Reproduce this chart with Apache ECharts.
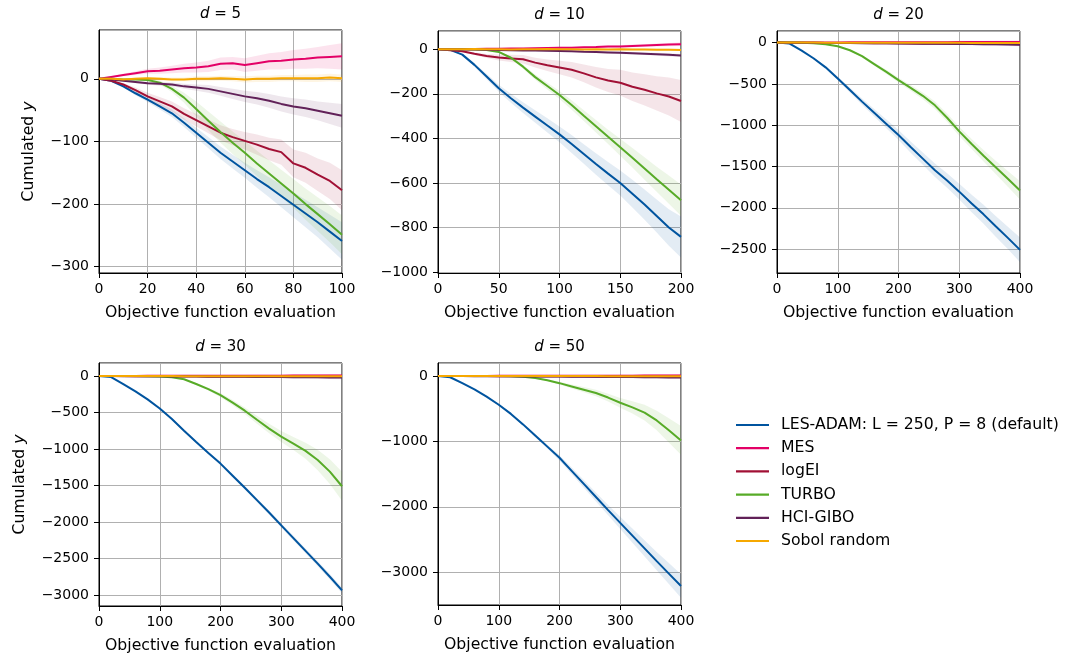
<!DOCTYPE html>
<html>
<head>
<meta charset="utf-8">
<script src="https://cdn.jsdelivr.net/npm/echarts@6/dist/echarts.min.js"></script>
<style>
  html, body { margin: 0; padding: 0; background: #ffffff; }
  #chart { width: 1066px; height: 658px; }
</style>
</head>
<body>
<div id="chart"></div>
<script>
// Methods compared and their line colours
const methods = ['LES-ADAM: L = 250, P = 8 (default)', 'MES', 'logEI', 'TURBO', 'HCI-GIBO', 'Sobol random'];
const colors = ['#00549F', '#E30066', '#A11035', '#57AB27', '#612158', '#F6A800'];

// ---- d = 5 : evaluations 0..100 ----
const evalsD5 = [0, 5, 10, 15, 20, 25, 30, 35, 40, 45, 50, 55, 60, 65, 70, 75, 80, 85, 90, 95, 100];
const les5 = [0, -3, -12, -23, -33, -44, -55, -70, -86, -102, -118, -132, -146, -160, -173, -187, -201, -215, -229, -244, -259];
const les5Band = [0, 1, 2, 3, 4, 5, 6, 7, 8, 9, 10, 11, 12, 14, 16, 18, 20, 22, 24, 27, 30];
const mes5 = [0, 3, 6, 9, 12, 13, 15, 17, 18, 20, 24, 25, 22, 25, 28, 29, 31, 32, 34, 35, 36];
const mes5Band = [0, 1, 2, 3, 4, 5, 6, 7, 8, 9, 10, 10, 11, 12, 13, 14, 15, 16, 17, 19, 21];
const logei5 = [0, -3, -9, -18, -28, -36, -44, -56, -66, -76, -86, -93, -99, -105, -112, -117, -135, -142, -153, -163, -178];
const logei5Band = [0, 1, 2, 4, 6, 7, 8, 9, 10, 11, 12, 13, 14, 16, 18, 20, 22, 24, 26, 29, 32];
const turbo5 = [0, 0, -1, -1, -2, -6, -16, -30, -48, -67, -85, -102, -118, -135, -151, -167, -183, -200, -216, -232, -249];
const turbo5Band = [0, 0, 0, 1, 2, 3, 5, 8, 12, 15, 17, 18, 19, 20, 21, 22, 23, 25, 27, 29, 31];
const hci5 = [0, -1, -3, -5, -7, -8, -9, -12, -14, -16, -20, -24, -28, -31, -35, -40, -44, -47, -51, -55, -59];
const hci5Band = [0, 1, 1, 2, 2, 3, 3, 4, 5, 6, 7, 8, 9, 10, 11, 12, 13, 14, 15, 17, 19];
const sobol5 = [0, 0, -1, 0, 1, 0, -1, -1, 0, 0, 1, 0, -1, 0, 0, 1, 1, 1, 1, 2, 1];
const sobol5Band = [0, 1, 1, 2, 2, 3, 3, 3, 4, 4, 4, 4, 5, 5, 5, 5, 5, 6, 6, 6, 6];

// ---- d = 10 : evaluations 0..200 ----
const evalsD10 = [0, 10, 20, 30, 40, 50, 60, 70, 80, 90, 100, 110, 120, 130, 140, 150, 160, 170, 180, 190, 200];
const les10 = [0, -3, -24, -70, -122, -175, -220, -262, -302, -342, -382, -425, -470, -515, -558, -600, -648, -697, -748, -800, -842];
const les10Band = [0, 1, 4, 8, 12, 16, 20, 24, 28, 32, 35, 40, 44, 48, 52, 56, 62, 68, 74, 82, 92];
const mes10 = [0, 0, 1, 1, 2, 2, 3, 3, 5, 6, 7, 7, 9, 10, 12, 13, 15, 17, 19, 21, 23];
const mes10Band = [0, 1, 1, 1, 2, 2, 2, 3, 3, 3, 4, 4, 4, 5, 5, 5, 6, 6, 7, 7, 8];
const logei10 = [0, -4, -9, -20, -30, -37, -41, -45, -60, -72, -82, -92, -108, -126, -140, -150, -168, -182, -198, -212, -232];
const logei10Band = [0, 2, 4, 6, 9, 13, 16, 19, 22, 26, 30, 35, 40, 46, 52, 58, 64, 70, 77, 85, 94];
const turbo10 = [0, 0, 0, -1, -3, -12, -38, -78, -125, -165, -205, -250, -298, -345, -393, -440, -487, -535, -583, -630, -677];
const turbo10Band = [0, 0, 0, 0, 1, 3, 6, 9, 12, 15, 18, 21, 24, 28, 32, 38, 44, 50, 56, 63, 70];
const hci10 = [0, 0, -1, -1, -2, -3, -4, -5, -6, -7, -8, -9, -11, -12, -14, -16, -18, -20, -22, -25, -28];
const hci10Band = [0, 1, 1, 1, 2, 2, 2, 3, 3, 3, 4, 4, 4, 5, 5, 5, 6, 6, 6, 7, 7];
const sobol10 = [0, 0, 0, 1, 0, 0, -1, 0, 0, 1, 0, 0, -1, 0, -1, 0, -1, -1, -2, -2, -3];
const sobol10Band = [0, 1, 1, 1, 2, 2, 2, 2, 3, 3, 3, 3, 3, 4, 4, 4, 4, 4, 5, 5, 5];

// ---- d = 20, 30, 50 : evaluations 0..400 ----
const evalsD400 = [0, 20, 40, 60, 80, 100, 120, 140, 160, 180, 200, 220, 240, 260, 280, 300, 320, 340, 360, 380, 400];

const les20 = [0, -10, -95, -190, -300, -435, -575, -715, -850, -985, -1120, -1265, -1405, -1545, -1670, -1805, -1945, -2080, -2225, -2365, -2510];
const les20Band = [0, 2, 5, 10, 15, 22, 30, 38, 45, 52, 60, 68, 75, 82, 88, 95, 105, 115, 125, 135, 150];
const mes20 = [0, 0, 1, 1, 2, 2, 3, 3, 3, 4, 4, 4, 5, 5, 5, 6, 6, 6, 7, 7, 8];
const logei20 = [0, -1, -2, -3, -4, -5, -5, -6, -7, -8, -9, -10, -11, -12, -13, -14, -15, -16, -17, -18, -20];
const turbo20 = [0, 0, -2, -8, -20, -45, -93, -165, -260, -355, -455, -548, -645, -760, -910, -1075, -1225, -1370, -1510, -1650, -1790];
const turbo20Band = [0, 0, 1, 2, 4, 6, 10, 15, 20, 25, 30, 35, 40, 45, 50, 55, 60, 70, 80, 95, 110];
const hci20 = [0, -1, -2, -3, -4, -5, -6, -7, -8, -9, -10, -11, -13, -14, -15, -16, -18, -19, -21, -23, -25];
const sobol20 = [0, 0, 0, 0, -1, -1, -1, -1, -2, -2, -2, -2, -3, -3, -3, -3, -4, -4, -4, -5, -5];
const flatBand20 = [0, 2, 3, 4, 5, 6, 7, 8, 9, 10, 10, 11, 12, 13, 14, 15, 16, 17, 18, 19, 20];

const les30 = [0, -15, -110, -210, -320, -445, -590, -750, -905, -1055, -1200, -1365, -1530, -1700, -1870, -2045, -2220, -2395, -2570, -2750, -2935];
const les30Band = [0, 2, 4, 6, 8, 10, 12, 14, 16, 18, 20, 22, 24, 26, 28, 30, 32, 34, 36, 38, 40];
const mes30 = [0, 0, 1, 1, 2, 2, 2, 3, 3, 3, 4, 4, 4, 5, 5, 5, 6, 6, 6, 7, 7];
const logei30 = [0, -1, -1, -2, -3, -3, -4, -5, -5, -6, -7, -7, -8, -9, -9, -10, -11, -11, -12, -13, -14];
const turbo30 = [0, 0, 0, 0, -3, -8, -18, -45, -110, -180, -262, -365, -475, -600, -720, -830, -925, -1025, -1150, -1310, -1510];
const turbo30Band = [0, 0, 0, 0, 1, 2, 4, 8, 14, 20, 28, 36, 45, 55, 65, 75, 90, 110, 140, 170, 200];
const hci30 = [0, -1, -2, -3, -4, -5, -6, -7, -8, -9, -10, -11, -12, -13, -14, -15, -16, -17, -18, -20, -22];
const sobol30 = [0, 0, 0, -1, -1, -1, -1, -2, -2, -2, -2, -2, -3, -3, -3, -3, -3, -4, -4, -4, -4];
const flatBand30 = [0, 2, 3, 4, 5, 6, 7, 8, 9, 10, 11, 12, 13, 14, 15, 16, 17, 18, 19, 20, 21];

const les50 = [0, -20, -110, -205, -315, -440, -580, -740, -910, -1080, -1250, -1450, -1650, -1850, -2050, -2245, -2440, -2635, -2830, -3020, -3210];
const les50Band = [0, 2, 4, 6, 8, 12, 16, 20, 25, 30, 40, 50, 60, 70, 80, 95, 110, 125, 140, 160, 180];
const mes50 = [0, 0, 1, 1, 1, 2, 2, 2, 3, 3, 3, 4, 4, 4, 5, 5, 5, 6, 6, 6, 7];
const logei50 = [0, -1, -1, -2, -2, -3, -3, -4, -4, -5, -5, -6, -6, -7, -7, -8, -8, -9, -9, -10, -10];
const turbo50 = [0, 0, 0, 0, 0, -2, -5, -12, -30, -65, -110, -160, -210, -260, -330, -410, -480, -560, -680, -830, -985];
const turbo50Band = [0, 0, 0, 0, 0, 1, 3, 6, 10, 15, 22, 30, 40, 50, 60, 75, 95, 120, 150, 185, 220];
const hci50 = [0, -1, -2, -3, -4, -5, -6, -7, -8, -9, -10, -11, -12, -13, -15, -16, -17, -19, -20, -22, -24];
const sobol50 = [0, 0, 0, 0, -1, -1, -1, -1, -1, -2, -2, -2, -2, -2, -3, -3, -3, -3, -3, -4, -4];
const flatBand50 = [0, 2, 3, 4, 5, 6, 7, 8, 9, 10, 11, 12, 13, 14, 15, 16, 17, 18, 19, 20, 22];

// Panel layout: one subplot per dimension
const panels = [
  { dim: '5',  x: evalsD5,   xMax: 100, yMin: -310,  yMax: 78,
    means: [les5, mes5, logei5, turbo5, hci5, sobol5],
    bands: [les5Band, mes5Band, logei5Band, turbo5Band, hci5Band, sobol5Band],
    grid: { left: 99, top: 30, width: 243, height: 243 }, yName: true, yNameGap: 62 },
  { dim: '10', x: evalsD10,  xMax: 200, yMin: -1004, yMax: 82,
    means: [les10, mes10, logei10, turbo10, hci10, sobol10],
    bands: [les10Band, mes10Band, logei10Band, turbo10Band, hci10Band, sobol10Band],
    grid: { left: 438, top: 31, width: 243, height: 242 } },
  { dim: '20', x: evalsD400, xMax: 400, yMin: -2790, yMax: 140,
    means: [les20, mes20, logei20, turbo20, hci20, sobol20],
    bands: [les20Band, flatBand20, flatBand20, turbo20Band, flatBand20, flatBand20],
    grid: { left: 777, top: 31, width: 243, height: 242 } },
  { dim: '30', x: evalsD400, xMax: 400, yMin: -3150, yMax: 178,
    means: [les30, mes30, logei30, turbo30, hci30, sobol30],
    bands: [les30Band, flatBand30, flatBand30, turbo30Band, flatBand30, flatBand30],
    grid: { left: 99, top: 363, width: 243, height: 243 }, yName: true, yNameGap: 71 },
  { dim: '50', x: evalsD400, xMax: 400, yMin: -3500, yMax: 198,
    means: [les50, mes50, logei50, turbo50, hci50, sobol50],
    bands: [les50Band, flatBand50, flatBand50, turbo50Band, flatBand50, flatBand50],
    grid: { left: 438, top: 363, width: 243, height: 242 } }
];

const FONT = 'DejaVu Sans';
const minus = v => (v < 0 ? '\u2212' + Math.abs(v) : String(v));
const tint = (hex, a) => {
  const n = parseInt(hex.slice(1), 16);
  return 'rgba(' + (n >> 16) + ',' + ((n >> 8) & 255) + ',' + (n & 255) + ',' + a + ')';
};

const grids = [], xAxes = [], yAxes = [], series = [], titles = [];

panels.forEach((p, i) => {
  grids.push(Object.assign({
    show: true, borderColor: '#000', borderWidth: 1, backgroundColor: 'transparent',
    containLabel: false, outerBoundsMode: 'none'
  }, p.grid));

  const axisCommon = {
    axisLine: { show: true, onZero: false, lineStyle: { color: '#000', width: 1 } },
    axisTick: { show: true, length: 5, lineStyle: { color: '#000', width: 1 } },
    splitLine: { show: true, lineStyle: { color: '#b0b0b0', width: 1 } }
  };

  xAxes.push(Object.assign({
    type: 'value', gridIndex: i, min: 0, max: p.xMax, splitNumber: 5,
    name: 'Objective function evaluation', nameLocation: 'middle', nameGap: 32,
    nameTextStyle: { fontFamily: FONT, fontSize: 15.7, color: '#000' },
    axisLabel: { fontFamily: FONT, fontSize: 14, color: '#000', margin: 9, formatter: minus }
  }, axisCommon));

  yAxes.push(Object.assign({
    type: 'value', gridIndex: i, min: p.yMin, max: p.yMax, splitNumber: 5,
    name: p.yName ? 'Cumulated {i|y}' : '', nameLocation: 'middle', nameGap: p.yNameGap || 60,
    nameRotate: 90,
    nameTextStyle: { fontFamily: FONT, fontSize: 15.7, color: '#000',
      rich: { i: { fontFamily: FONT, fontSize: 15.7, fontStyle: 'italic', color: '#000' } } },
    axisLabel: { fontFamily: FONT, fontSize: 14, color: '#000', margin: 10,
      showMinLabel: false, showMaxLabel: false, formatter: minus }
  }, axisCommon));

  // shaded spread (mean ± band) drawn as one polygon per method
  p.means.forEach((mean, j) => {
    const band = p.bands[j];
    const xs = p.x;
    series.push({
      type: 'custom', xAxisIndex: i, yAxisIndex: i, silent: true, clip: true, z: 1,
      data: xs.map((xv, k) => [xv, mean[k] - band[k], mean[k] + band[k]]),
      encode: { x: 0, y: [1, 2] },
      renderItem: (params, api) => {
        if (params.dataIndex !== 0) return null;
        const upper = xs.map((xv, k) => api.coord([xv, mean[k] + band[k]]));
        const lower = xs.map((xv, k) => api.coord([xv, mean[k] - band[k]])).reverse();
        return {
          type: 'polygon',
          shape: { points: upper.concat(lower) },
          style: { fill: tint(colors[j], 0.11), stroke: null }
        };
      }
    });
  });

  // mean curves
  p.means.forEach((mean, j) => {
    series.push({
      type: 'line', name: methods[j], xAxisIndex: i, yAxisIndex: i,
      data: p.x.map((xv, k) => [xv, mean[k]]),
      symbol: 'none', lineStyle: { color: colors[j], width: 2 },
      itemStyle: { color: colors[j] }, z: 3
    });
  });

  // subplot heading "d = …" with an italic d
  titles.push({
    text: '{i|d}{n| = ' + p.dim + '}',
    left: p.grid.left + p.grid.width / 2,
    top: p.grid.top - 23,
    textAlign: 'center',
    padding: 0,
    textStyle: {
      fontFamily: FONT, fontSize: 15, fontWeight: 'normal', color: '#000',
      rich: {
        i: { fontFamily: FONT, fontSize: 15, fontWeight: 'normal', fontStyle: 'italic', color: '#000' },
        n: { fontFamily: FONT, fontSize: 15, fontWeight: 'normal', color: '#000' }
      }
    }
  });
});

const chart = echarts.init(document.getElementById('chart'), null, { renderer: 'canvas' });
chart.setOption({
  animation: false,
  backgroundColor: '#ffffff',
  title: titles,
  grid: grids,
  xAxis: xAxes,
  yAxis: yAxes,
  series: series,
  legend: {
    data: methods,
    orient: 'vertical',
    left: 736, top: 417,
    padding: 0,
    icon: 'rect',
    itemWidth: 33, itemHeight: 2.2,
    itemGap: 7.2,
    selectedMode: false,
    textStyle: { fontFamily: FONT, fontSize: 15.7, color: '#000', lineHeight: 16, padding: [0, 0, 0, 7] }
  }
});
</script>
</body>
</html>
